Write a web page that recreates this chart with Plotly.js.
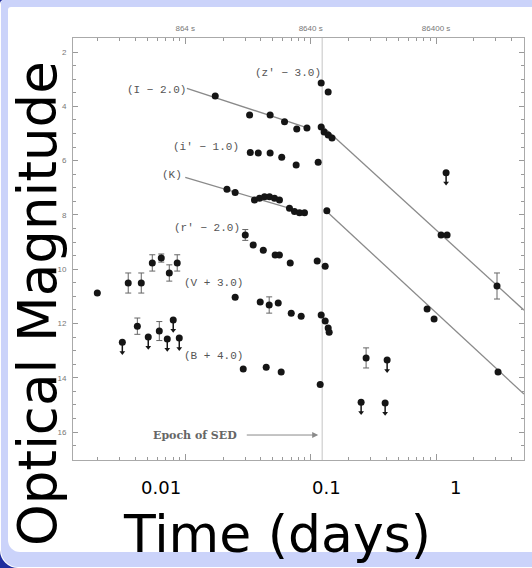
<!DOCTYPE html>
<html>
<head>
<meta charset="utf-8">
<script src="https://cdn.plot.ly/plotly-3.0.1.min.js"></script>
<style>
html,body{margin:0;padding:0;background:#fff;}
#frame{position:relative;width:532px;height:568px;background:#1e2d9e;overflow:hidden;}
#ring{position:absolute;left:0;top:0;width:532px;height:568px;background:#ffffff;border-radius:4px 0 0 18px;}
#blue{position:absolute;left:1px;top:0;width:531px;height:567px;background:#cbd3fa;border-radius:3px 0 0 17px;}
#panel{position:absolute;left:8px;top:7px;width:524px;height:545px;background:#ffffff;border-radius:3px 0 0 12px;}
#plot{position:absolute;left:0;top:0;width:532px;height:568px;}
</style>
</head>
<body>
<div id="frame">
  <div id="ring"></div>
  <div id="blue"></div>
  <div id="panel"></div>
  <div id="plot"></div>
</div>
<script>
// ---------------- data (time in days, magnitude with band offsets) ----------------
const zBandT = [0.1213, 0.1379];
const zBandM = [3.14, 3.47];
const zLimT  = [1.202];
const zLimM  = [6.45];

const iBandT   = [0.01734, 0.0326, 0.0475, 0.0619, 0.0775, 0.0934, 0.1213, 0.128, 0.138, 0.148, 1.096, 1.224, 3.06];
const iBandM   = [3.62, 4.32, 4.32, 4.57, 4.84, 4.80, 4.76, 4.95, 5.06, 5.17, 8.74, 8.74, 10.62];
const iBandErr = [null, null, null, null, null, null, null, null, null, null, null, null, 0.48];

const ipBandT = [0.0330, 0.0382, 0.0475, 0.0588, 0.0766, 0.1148];
const ipBandM = [5.70, 5.72, 5.72, 5.88, 6.16, 6.06];

const kBandT = [0.0215, 0.0250, 0.03565, 0.03908, 0.04285, 0.04698, 0.05151, 0.05641, 0.06776, 0.0743, 0.08147, 0.0893, 0.1346, 0.848, 0.964, 3.12];
const kBandM = [7.06, 7.18, 7.45, 7.39, 7.33, 7.33, 7.39, 7.45, 7.76, 7.88, 7.92, 7.92, 7.85, 11.47, 11.84, 13.79];

const rBandT   = [0.0301, 0.0348, 0.0419, 0.0521, 0.0563, 0.0687, 0.1127, 0.1305];
const rBandM   = [8.74, 9.11, 9.30, 9.48, 9.48, 9.77, 9.70, 9.89];
const rBandErr = [0.2, null, null, null, null, null, null, null];

const vBandT   = [0.0250, 0.0396, 0.0467, 0.0551, 0.0700, 0.0840, 0.1213, 0.1305, 0.1379, 0.1404, 0.2767];
const vBandM   = [11.03, 11.21, 11.32, 11.25, 11.62, 11.73, 11.69, 11.91, 12.17, 12.32, 13.27];
const vBandErr = [null, null, 0.3, null, null, null, null, null, null, null, 0.37];
const vLimT = [0.4071];
const vLimM = [13.35];

const bBandT = [0.0290, 0.0442, 0.0582, 0.1191];
const bBandM = [13.68, 13.61, 13.79, 14.25];
const bLimT  = [0.2525, 0.3924];
const bLimM  = [14.90, 14.93];

const earlyUpT   = [0.00199, 0.00351, 0.00446, 0.00546, 0.00644, 0.00746, 0.00863];
const earlyUpM   = [10.88, 10.51, 10.51, 9.77, 9.59, 10.14, 9.77];
const earlyUpErr = [null, 0.37, 0.37, 0.3, 0.15, 0.3, 0.3];

const earlyLowT   = [0.00415, 0.00621];
const earlyLowM   = [12.10, 12.28];
const earlyLowErr = [0.3, 0.35];
const earlyLimT   = [0.00315, 0.00507, 0.00719, 0.00802, 0.00896];
const earlyLimM   = [12.69, 12.50, 12.57, 11.87, 12.54];

// broken power-law fits (null separates the two segments)
const fitIT = [0.01031, 0.0955, null, 0.1213, 5.02];
const fitIM = [3.34, 4.80, null, 4.69, 11.51];
const fitKT = [0.0100, 0.0922, null, 0.1330, 5.02];
const fitKM = [6.62, 7.94, null, 7.86, 14.60];

const epochSED = 0.1235;
const epochArrowFrom = 0.0301;
const epochArrowTo = 0.1148;

const bandLabels = ['(I \u2212 2.0)', '(z\u2032 \u2212 3.0)', '(i\u2032 \u2212 1.0)', '(K)', '(r\u2032 \u2212 2.0)', '(V + 3.0)', '(B + 4.0)'];
const bandLabelT = [0.00588, 0.0662, 0.01469, 0.00787, 0.01496, 0.01671, 0.01671];
const bandLabelM = [3.40, 2.77, 5.50, 6.53, 8.48, 10.51, 13.20];

const topTickDays  = [0.01, 0.1, 1];
const topTickText  = ['864 s', '8640 s', '86400 s'];
const bottomTickText = ['0.01', '0.1', '1'];
const magTicks = [2, 4, 6, 8, 10, 12, 14, 16];

// ---------------- styles ----------------
const DOT = '#151515';
const ARROW = 0.38;
const ebar = (arr) => ({type: 'data', array: arr, visible: true, color: '#666', thickness: 1, width: 3});

function points(t, m, err) {
  const tr = {x: t, y: m, mode: 'markers', type: 'scatter', hoverinfo: 'skip',
    marker: {symbol: 'circle', size: 7, color: DOT}};
  if (err) tr.error_y = ebar(err);
  return tr;
}
function limits(t, m) {
  return [
    {x: t, y: m, mode: 'markers', type: 'scatter', hoverinfo: 'skip',
     marker: {symbol: 'circle', size: 7, color: DOT},
     error_y: {type: 'data', symmetric: false, array: m.map(() => ARROW), arrayminus: m.map(() => 0),
               visible: true, color: DOT, thickness: 1.5, width: 0}},
    {x: t, y: m.map(v => v + ARROW), mode: 'markers', type: 'scatter', hoverinfo: 'skip',
     marker: {symbol: 'triangle-down', size: 5, color: DOT}}
  ];
}

const traces = [
  {x: [epochSED, epochSED], y: [17.1, 1.4], mode: 'lines', hoverinfo: 'skip', line: {color: '#c4c4c4', width: 1}},
  {x: fitIT, y: fitIM, mode: 'lines', hoverinfo: 'skip', line: {color: '#8a8a8a', width: 1.3}},
  {x: fitKT, y: fitKM, mode: 'lines', hoverinfo: 'skip', line: {color: '#8a8a8a', width: 1.3}},
  points(zBandT, zBandM),
  ...limits(zLimT, zLimM),
  points(iBandT, iBandM, iBandErr),
  points(ipBandT, ipBandM),
  points(kBandT, kBandM),
  points(rBandT, rBandM, rBandErr),
  points(vBandT, vBandM, vBandErr),
  ...limits(vLimT, vLimM),
  points(bBandT, bBandM),
  ...limits(bLimT, bLimM),
  points(earlyUpT, earlyUpM, earlyUpErr),
  points(earlyLowT, earlyLowM, earlyLowErr),
  ...limits(earlyLimT, earlyLimM),
  {x: topTickDays, y: topTickDays.map(() => null), xaxis: 'x2', mode: 'markers', hoverinfo: 'skip', showlegend: false}
];

// plot geometry in page pixels
const L = 73, R = 8, T = 38, B = 108, W = 532, H = 568;
const PW = W - L - R, PH = H - T - B;
const px = (x) => (x - L) / PW;
const py = (y) => (H - B - y) / PH;

const minorVals = [];
[-3, -2, -1, 0].forEach(d => { for (let k = 2; k <= 9; k++) minorVals.push(k * Math.pow(10, d)); });

const annotations = [];
bandLabels.forEach((txt, i) => annotations.push({
  xref: 'x', yref: 'y', x: Math.log10(bandLabelT[i]), y: bandLabelM[i], text: txt, showarrow: false,
  xanchor: 'center', yanchor: 'middle',
  font: {family: 'Liberation Mono, monospace', size: 11, color: '#555'}
}));
annotations.push({xref: 'x', yref: 'y', x: Math.log10(0.01202), y: 16.11, text: '<b>Epoch of SED</b>', showarrow: false,
  xanchor: 'center', yanchor: 'middle',
  font: {family: 'DejaVu Serif, serif', size: 11, color: '#666'}});
annotations.push({xref: 'x', yref: 'y', axref: 'x', ayref: 'y',
  x: Math.log10(epochArrowTo), y: 16.11, ax: Math.log10(epochArrowFrom), ay: 16.11,
  text: '', showarrow: true, arrowhead: 2, arrowsize: 1.2, arrowwidth: 1, arrowcolor: '#8a8a8a'});
const bigTickX = [161, 326, 455];
bottomTickText.forEach((txt, i) => annotations.push({
  xref: 'paper', yref: 'paper', x: px(bigTickX[i]), y: py(487), text: txt, showarrow: false,
  xanchor: 'center', yanchor: 'middle',
  font: {family: 'DejaVu Sans', size: 18, color: '#000'}
}));
annotations.push({xref: 'paper', yref: 'paper', x: px(277), y: py(534), text: 'Time (days)', showarrow: false,
  xanchor: 'center', yanchor: 'middle',
  font: {family: 'DejaVu Sans', size: 52, color: '#000'}});
annotations.push({xref: 'paper', yref: 'paper', x: px(37), y: py(304), text: 'Optical Magnitude', showarrow: false,
  xanchor: 'center', yanchor: 'middle',
  textangle: -90, font: {family: 'DejaVu Sans', size: 53, color: '#000'}});

const layout = {
  width: W, height: H,
  margin: {l: L, r: R, t: T, b: B, pad: 0},
  paper_bgcolor: 'rgba(0,0,0,0)', plot_bgcolor: 'rgba(0,0,0,0)',
  showlegend: false, hovermode: false,
  xaxis: {type: 'log', range: [-2.895, 0.701], tickvals: topTickDays, ticks: 'inside', ticklen: 6,
    tickcolor: '#999', tickwidth: 1, showticklabels: false, showline: true, linecolor: '#aaa', linewidth: 1,
    mirror: 'ticks', showgrid: false, zeroline: false,
    minor: {tickmode: 'array', tickvals: minorVals, ticks: 'inside', ticklen: 3, tickcolor: '#999', showgrid: false}},
  xaxis2: {type: 'log', range: [-2.895, 0.701], overlaying: 'x', side: 'top', anchor: 'y',
    tickvals: topTickDays, ticktext: topTickText, ticks: '', showline: false, showgrid: false, zeroline: false,
    ticklabelstandoff: 4, tickfont: {family: 'Liberation Sans, sans-serif', size: 8, color: '#777'}},
  yaxis: {range: [17.03, 1.484], tickvals: magTicks, ticks: 'inside', ticklen: 5, tickcolor: '#999',
    showline: true, linecolor: '#aaa', linewidth: 1, mirror: 'ticks', showgrid: false, zeroline: false,
    ticklabelstandoff: 4, tickfont: {family: 'Liberation Sans, sans-serif', size: 8, color: '#777'},
    minor: {dtick: 0.5, ticks: 'inside', ticklen: 3, tickcolor: '#999', showgrid: false}},
  annotations: annotations
};

Plotly.newPlot('plot', traces, layout, {displayModeBar: false, staticPlot: true});
</script>
</body>
</html>
